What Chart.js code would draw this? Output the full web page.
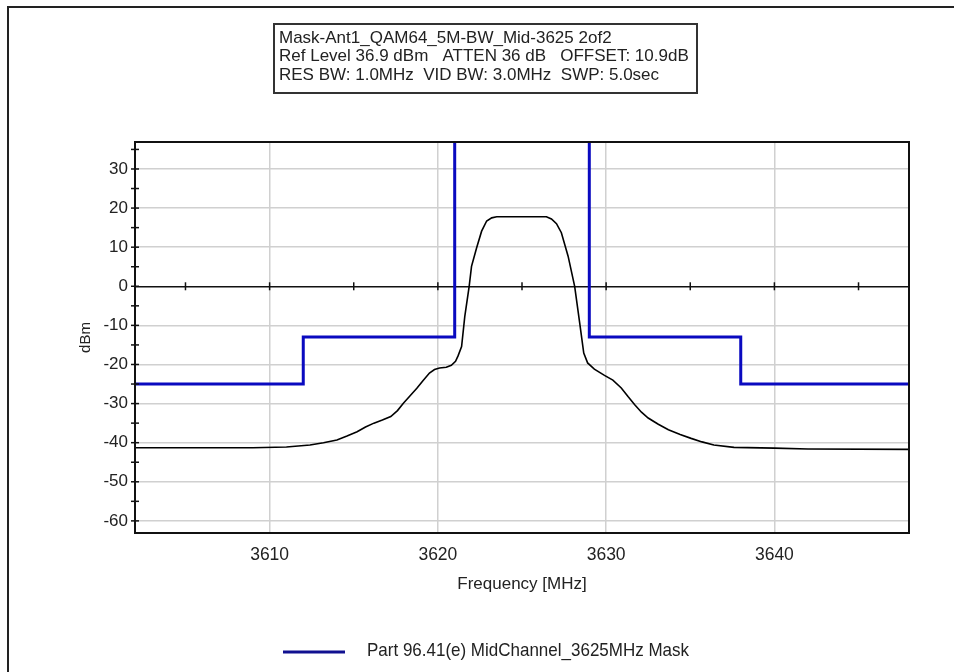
<!DOCTYPE html>
<html>
<head>
<meta charset="utf-8">
<script src="https://cdn.jsdelivr.net/npm/chart.js@4.4.1/dist/chart.umd.min.js"></script>
<style>
  html, body { margin: 0; padding: 0; background: #fff; }
</style>
</head>
<body>
<canvas id="maskChart" width="954" height="672"></canvas>
<script>
// header text of the analyzer plot
var headerLines = [
    'Mask-Ant1_QAM64_5M-BW_Mid-3625 2of2',
    'Ref Level 36.9 dBm   ATTEN 36 dB   OFFSET: 10.9dB',
    'RES BW: 1.0MHz  VID BW: 3.0MHz  SWP: 5.0sec'
];

// emission mask (MHz / dBm), null = break above the top of the plot
var maskFreq  = [3602, 3612, 3612, 3621, 3621, 3625, 3629, 3629, 3638, 3638, 3648];
var maskLevel = [-25, -25, -13, -13, 45, null, 45, -13, -13, -25, -25];

// measured trace (MHz / dBm)
var traceFreq = [3602, 3606, 3609, 3611, 3612.4, 3613.2, 3614.0, 3614.6, 3615.2, 3615.7,
    3616.2, 3616.7, 3617.2, 3617.6, 3617.95, 3618.35, 3618.75, 3619.1, 3619.5, 3619.8,
    3620.1, 3620.5, 3620.8, 3621.05, 3621.2, 3621.41, 3621.6, 3621.86, 3622.0, 3622.3,
    3622.6, 3622.9, 3623.2, 3623.5, 3626.45, 3626.75, 3627.05, 3627.34, 3627.74, 3628.13,
    3628.43, 3628.67, 3628.9, 3629.3, 3629.9, 3630.4, 3630.9, 3631.3, 3631.7, 3632.1,
    3632.5, 3633.1, 3633.7, 3634.4, 3635.05, 3635.7, 3636.4, 3637.6, 3640, 3642, 3648];
var traceLevel = [-41.3, -41.3, -41.3, -41.1, -40.6, -40.0, -39.3, -38.3, -37.2, -36.0,
    -35.0, -34.2, -33.3, -31.8, -29.9, -28.0, -26.1, -24.2, -22.2, -21.3,
    -20.9, -20.7, -20.2, -19.2, -17.8, -15.4, -7.7, 0, 5.1, 9.8,
    14.1, 16.7, 17.5, 17.8, 17.8, 17.2, 16.0, 13.7, 7.7, 0,
    -9.4, -17.1, -19.6, -21.2, -22.8, -24.0, -26.0, -28.2, -30.3, -32.2,
    -33.7, -35.3, -36.7, -37.9, -38.9, -39.8, -40.6, -41.2, -41.4, -41.6, -41.7];

var xTickValues = [3610, 3620, 3630, 3640];
var yTickValues = [-60, -50, -40, -30, -20, -10, 0, 10, 20, 30];

var regular = "'Liberation Sans', Arial, sans-serif";
var textColor = '#222';

function pairs(xs, ys) {
    return xs.map(function (x, i) { return { x: x, y: ys[i] }; });
}

// draw text squeezed/stretched to a given width
function fitText(ctx, text, x, y, width) {
    var w = ctx.measureText(text).width;
    ctx.save();
    ctx.translate(x, y);
    ctx.scale(width / w, 1);
    ctx.fillText(text, 0, 0);
    ctx.restore();
}

var framePlugin = {
    id: 'frame',
    afterDatasetsDraw: function (chart) {
        var ctx = chart.ctx, a = chart.chartArea;
        var xs = chart.scales.x, ys = chart.scales.y;
        ctx.save();
        ctx.strokeStyle = '#111';
        ctx.lineWidth = 1.5;
        // little ticks on the y axis, every 5 dB
        for (var v = -60; v <= 35; v += 5) {
            var py = ys.getPixelForValue(v);
            ctx.beginPath();
            ctx.moveTo(a.left - 4, py);
            ctx.lineTo(a.left + 4, py);
            ctx.stroke();
        }
        // ticks on the 0 dBm line, every 5 MHz
        var y0 = ys.getPixelForValue(0);
        for (var f = 3605; f < 3648; f += 5) {
            var px = xs.getPixelForValue(f);
            ctx.beginPath();
            ctx.moveTo(px, y0 - 4);
            ctx.lineTo(px, y0 + 4);
            ctx.stroke();
        }
        ctx.lineWidth = 2;
        ctx.strokeRect(a.left, a.top, a.right - a.left, a.bottom - a.top);
        ctx.restore();
    },
    afterDraw: function (chart) {
        var ctx = chart.ctx;
        ctx.save();
        // outer edge of the screenshot
        ctx.strokeStyle = '#222';
        ctx.lineWidth = 2;
        ctx.beginPath();
        ctx.moveTo(8, 672);
        ctx.lineTo(8, 7);
        ctx.lineTo(954, 7);
        ctx.stroke();

        // header box
        ctx.strokeStyle = '#333';
        ctx.strokeRect(274, 24, 423, 69);
        ctx.fillStyle = textColor;
        ctx.font = '17px ' + regular;
        ctx.textBaseline = 'middle';
        ctx.textAlign = 'left';
        var lineY = [38, 56, 75];
        headerLines.forEach(function (t, i) {
            ctx.fillText(t, 279, lineY[i]);
        });

        // legend (mask only)
        var ds = chart.data.datasets[1];
        ctx.strokeStyle = '#101090';
        ctx.lineWidth = 3;
        ctx.beginPath();
        ctx.moveTo(283, 652);
        ctx.lineTo(345, 652);
        ctx.stroke();
        ctx.font = '19px ' + regular;
        fitText(ctx, ds.label, 367, 651, 322);
        ctx.restore();
    }
};

var ctx = document.getElementById('maskChart').getContext('2d');
var maskChart = new Chart(ctx, {
    type: 'line',
    data: {
        datasets: [
            {
                label: 'Trace',
                data: pairs(traceFreq, traceLevel),
                borderColor: '#000',
                borderWidth: 1.6,
                pointRadius: 0,
                tension: 0
            },
            {
                label: 'Part 96.41(e) MidChannel_3625MHz Mask',
                data: pairs(maskFreq, maskLevel),
                borderColor: '#0a0ac0',
                borderWidth: 3,
                pointRadius: 0,
                spanGaps: false,
                tension: 0
            }
        ]
    },
    options: {
        responsive: false,
        animation: false,
        devicePixelRatio: 1,
        layout: { padding: { top: 142, right: 45, bottom: 59, left: 0 } },
        plugins: {
            legend: { display: false },
            tooltip: { enabled: false }
        },
        scales: {
            x: {
                type: 'linear',
                min: 3602,
                max: 3648,
                afterBuildTicks: function (s) {
                    s.ticks = xTickValues.map(function (v) { return { value: v }; });
                },
                afterFit: function (s) { s.height = 80; },
                ticks: {
                    padding: 12,
                    color: textColor,
                    font: { family: regular, size: 17.5 },
                    callback: function (v) { return String(v); }
                },
                grid: { color: '#d0d0d0', lineWidth: 1.5, drawTicks: false },
                border: { display: false },
                title: {
                    display: true,
                    text: 'Frequency [MHz]',
                    color: textColor,
                    font: { family: regular, size: 17 },
                    padding: { top: 0, bottom: 18 }
                }
            },
            y: {
                min: -63.1,
                max: 36.9,
                afterBuildTicks: function (s) {
                    s.ticks = yTickValues.map(function (v) { return { value: v }; });
                },
                afterFit: function (s) { s.width = 135; },
                ticks: {
                    padding: 7,
                    color: textColor,
                    font: { family: regular, size: 17 },
                    callback: function (v) { return String(v); }
                },
                grid: {
                    color: function (c) { return c.tick && c.tick.value === 0 ? '#111' : '#d0d0d0'; },
                    lineWidth: 1.5,
                    drawTicks: false
                },
                border: { display: false },
                title: {
                    display: true,
                    text: 'dBm',
                    color: textColor,
                    font: { family: regular, size: 15 },
                    padding: { top: 77, bottom: 0 }
                }
            }
        }
    },
    plugins: [framePlugin]
});
</script>
</body>
</html>
